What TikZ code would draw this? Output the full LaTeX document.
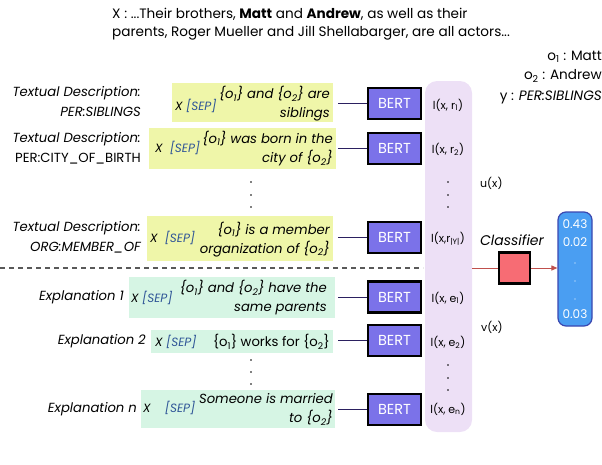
\documentclass[tikz,border=0pt]{standalone}
\usepackage{fontspec}
\setmainfont{Poppins}
\usetikzlibrary{arrows.meta}
\definecolor{ylw}{HTML}{EFF6A9}
\definecolor{mint}{HTML}{D6F5E4}
\definecolor{lav}{HTML}{EDE0F6}
\definecolor{bertc}{HTML}{7B72E9}
\definecolor{clsred}{HTML}{F76C74}
\definecolor{outblue}{HTML}{4A9EF2}
\definecolor{outedge}{HTML}{3A47B0}
\definecolor{sepc}{HTML}{2F5597}
\definecolor{navy}{HTML}{2B2060}
\definecolor{redline}{HTML}{C0504D}
\newcommand{\sepx}{\textcolor{sepc}{[SEP]}}
\newcommand{\oo}[1]{\{o\textsubscript{#1}\}}
\tikzset{
  ybox/.style={fill=ylw, draw=none, inner sep=0pt},
  gbox/.style={fill=mint, draw=none, inner sep=0pt},
  bert/.style={fill=bertc, draw=black, line width=2.6pt, minimum width=53pt, minimum height=31pt, inner sep=0pt, text=white, font=\fontsize{14.5}{14}\selectfont},
  lbl/.style={anchor=east, align=right, inner sep=0pt, font=\fontsize{13.2}{20}\selectfont\itshape},
  btxt/.style={anchor=east, align=right, inner sep=0pt, font=\fontsize{13.2}{19}\selectfont\itshape},
  xsep/.style={anchor=west, inner sep=0pt, font=\fontsize{12}{13}\selectfont\itshape},
  col/.style={inner sep=0pt, font=\fontsize{11}{12}\selectfont},
  conn/.style={draw=navy, line width=1pt},
  dot/.style={fill=black, circle, inner sep=0pt, minimum size=1.6pt},
  wdot/.style={fill=white, circle, inner sep=0pt, minimum size=1.4pt},
  wtxt/.style={inner sep=0pt, text=white, font=\fontsize{12}{12}\selectfont},
  toptxt/.style={inner sep=0pt, font=\fontsize{13.6}{19}\selectfont}
}
\begin{document}
\begin{tikzpicture}[x=1pt,y=-1pt]
\useasboundingbox (0,0) rectangle (602,464);
% top text
\node[toptxt, anchor=west] (xl1) at (112,14) {X : ...Their brothers, \textbf{Matt} and \textbf{Andrew}, as well as their};
\node[toptxt, anchor=west] (xl2) at (112,33) {parents, Roger Mueller and Jill Shellabarger, are all actors...};
\node[toptxt, anchor=east] (o1) at (602,57) {o\textsubscript{1} : Matt};
\node[toptxt, anchor=east] (o2) at (602,76) {o\textsubscript{2} : Andrew};
\node[toptxt, anchor=east] (yl) at (602,97) {y : \textit{PER:SIBLINGS}};

% lavender column
\node[fill=lav, rounded corners=12pt, minimum width=47pt, minimum height=351pt, inner sep=0pt] (colm) at (448.5,256.5) {};

% left labels
\node[lbl] (L1) at (141,102) {Textual Description:\\PER:SIBLINGS};
\node[lbl] (L2) at (141,148) {Textual Description:\\\upshape PER:CITY\_OF\_BIRTH};
\node[lbl] (L3) at (141,237) {Textual Description:\\ORG:MEMBER\_OF};
\node[lbl] (E1) at (124,297) {Explanation 1};
\node[lbl] (E2) at (146,341) {Explanation 2};
\node[lbl] (E3) at (137,409) {Explanation n};

% text boxes
\node[ybox, minimum width=161pt, minimum height=39pt] (t1) at (252.5,102.5) {};
\node[ybox, minimum width=187pt, minimum height=41pt] (t2) at (242.5,148.5) {};
\node[ybox, minimum width=186pt, minimum height=45pt] (t3) at (240,238.5) {};
\node[gbox, minimum width=206pt, minimum height=41pt] (e1) at (232,297.5) {};
\node[gbox, minimum width=182pt, minimum height=23pt] (e2) at (242,341.5) {};
\node[gbox, minimum width=194pt, minimum height=38pt] (e3) at (238,409) {};

\node[xsep] (x1) at (175,106) {X \sepx};
\node[btxt] (s1) at (330,104) {\oo1 and \oo2 are\\siblings};
\node[xsep] (x2) at (155,148) {X\ \ \sepx};
\node[btxt] (s2) at (333,148.5) {\oo1 was born in the\\city of \oo2};
\node[xsep] (x3) at (150,238) {X\ \ \sepx};
\node[btxt] (s3) at (330,239.5) {\oo1 is a member\\organization of \oo2};
\node[xsep] (x4) at (131,298) {X\ \sepx};
\node[btxt] (s4) at (327,298) {\oo1 and \oo2 have the\\same parents};
\node[xsep] (x5) at (155,342) {X\ \sepx};
\node[btxt, font=\fontsize{13.2}{19}\selectfont\upshape] (s5) at (330,342) {\oo1 works for \oo2};
\node[xsep] (x6) at (143,408) {X\ \ \ \ \sepx};
\node[btxt] (s6) at (333,409.5) {Someone is married\\to \oo2};

% dots between text boxes
\foreach \yy [count=\i] in {182,195,207} \node[dot] (dt\i) at (251,\yy) {};
\foreach \yy [count=\i] in {360,372,384} \node[dot] (de\i) at (251,\yy) {};

% BERT boxes
\node[bert] (b1) at (394.5,103.5) {BERT};
\node[bert] (b2) at (394.5,148.5) {BERT};
\node[bert] (b3) at (394.5,237.5) {BERT};
\node[bert] (b4) at (394.5,297) {BERT};
\node[bert] (b5) at (394.5,340.5) {BERT};
\node[bert] (b6) at (394.5,409.5) {BERT};

\draw[conn] (t1.east |- b1.west) ++(5,0) -- (b1.west);
\draw[conn] (t2.east |- b2.west) ++(2,0) -- (b2.west);
\draw[conn] (t3.east |- b3.west) ++(5,0) -- (b3.west);
\draw[conn] (e1.east |- b4.west) ++(3,0) -- (b4.west);
\draw[conn] (e2.east |- b5.west) ++(5,0) -- (b5.west);
\draw[conn] (e3.east |- b6.west) ++(3,0) -- (b6.west);

% column labels
\node[col] (c1) at (448,105) {l(x, r\textsubscript{1})};
\node[col] (c2) at (448,149) {l(x, r\textsubscript{2})};
\foreach \yy [count=\i] in {182,195,207} \node[dot] (cd\i) at (448,\yy) {};
\node[col] (c3) at (448,239) {l(x,r\textsubscript{|Y|})};
\node[col] (c4) at (448,298) {l(x, e\textsubscript{1})};
\node[col] (c5) at (448,342) {l(x, e\textsubscript{2})};
\foreach \yy [count=\i] in {365,378,390} \node[dot] (ce\i) at (448,\yy) {};
\node[col] (c6) at (448,409) {l(x, e\textsubscript{n})};

\node[col, anchor=west] (ux) at (480,183) {u(x)};
\node[col, anchor=west] (vx) at (481,327) {v(x)};

% dashed separator
\coordinate (dsA) at (0,268);
\coordinate (dsB) at (423,268);
\draw[draw=black!65, line width=1.3pt, dash pattern=on 5pt off 4pt] (dsA) -- (dsB);

% classifier
\node[inner sep=0pt, font=\fontsize{14}{14}\selectfont\itshape] (clab) at (512,240) {Classifier};
\node[fill=clsred, draw=black, line width=2.4pt, minimum size=31pt, inner sep=0pt] (cls) at (514.5,268) {};
\node[fill=outblue, draw=outedge, line width=1.2pt, rounded corners=8pt, minimum width=34pt, minimum height=114pt, inner sep=0pt] (out) at (575,269) {};
\draw[draw=redline, line width=1pt] (colm.east |- cls.west) -- (cls.west);
\draw[draw=redline, line width=1pt, -{Triangle[length=6pt,width=5pt]}] (cls.east) -- (out.west |- cls.east);

\node[wtxt] (v1) at (575,224) {0.43};
\node[wtxt] (v2) at (575,242) {0.02};
\foreach \yy [count=\i] in {263,281,299} \node[wdot] (od\i) at (575,\yy) {};
\node[wtxt] (v3) at (575,314) {0.03};
\end{tikzpicture}
\end{document}
